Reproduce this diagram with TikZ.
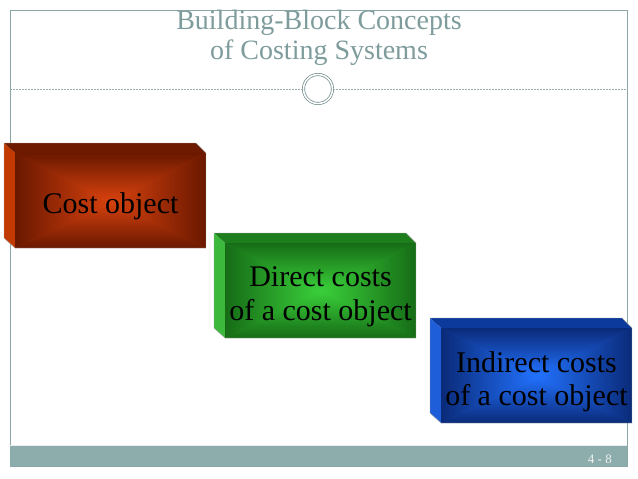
\documentclass[tikz,border=0pt]{standalone}
\usepackage{fontspec}
\setmainfont{Liberation Serif}
\usetikzlibrary{calc}
\definecolor{titlec}{HTML}{7F9C9C}
\definecolor{framec}{HTML}{8AA6A6}
\definecolor{barc}{HTML}{8DACAC}
\definecolor{redE}{HTML}{6A1800}
\definecolor{redC}{HTML}{D8420E}
\definecolor{redT}{HTML}{6E1A00}
\definecolor{redL}{HTML}{C23A00}
\definecolor{grnE}{HTML}{166C16}
\definecolor{grnC}{HTML}{3AD03A}
\definecolor{grnT}{HTML}{1E7E1E}
\definecolor{grnL}{HTML}{3CB83C}
\definecolor{bluE}{HTML}{0A2A78}
\definecolor{bluC}{HTML}{2272FF}
\definecolor{bluT}{HTML}{0B3A9C}
\definecolor{bluL}{HTML}{1E5ED8}
\tikzset{
  boxtext/.style={font=\fontsize{30}{33.5}\selectfont, text=black, align=center, inner sep=0pt},
  edgeline/.style={draw=black!35, line width=0.4pt}
}
% #1 x, #2 y of front top-left, #3 edge, #4 centre, #5 top face, #6 left face
\newcommand\drawblock[6]{%
  \coordinate (tl) at (#1,#2);
  \coordinate (tr) at (#1+191,#2);
  \coordinate (br) at (#1+191,#2+95);
  \coordinate (bl) at (#1,#2+95);
  \coordinate (cc) at (#1+95.5,#2+47.5);
  \fill[#5] (tl) -- (tr) -- ($(tr)+(-10,-10)$) -- ($(tl)+(-11,-10)$) -- cycle;
  \fill[#6] (tl) -- (bl) -- ($(bl)+(-11,-10)$) -- ($(tl)+(-11,-10)$) -- cycle;
  \fill[#3!45!#4] (tl) rectangle (br);
  \shade[top color=#3, bottom color=#4] (tl) -- (tr) -- (cc) -- cycle;
  \shade[top color=#4, bottom color=#3] (bl) -- (br) -- (cc) -- cycle;
  \shade[left color=#3, right color=#4] (tl) -- (bl) -- (cc) -- cycle;
  \shade[left color=#4, right color=#3] (tr) -- (br) -- (cc) -- cycle;
  \draw[edgeline] ($(tl)+(-11,-10)$) -- ($(tr)+(-10,-10)$) -- (tr) -- (br) -- (bl) -- ($(bl)+(-11,-10)$) -- cycle;
}
\begin{document}
\begin{tikzpicture}[x=1pt,y=-1pt]
\useasboundingbox (0,0) rectangle (638,479);
\fill[white] (0,0) rectangle (638,479);
% frame and footer bar
\draw[framec, line width=0.6pt] (10,10) rectangle (627,466);
\fill[barc] (10,446) rectangle (627,466);
\draw[white!80!barc, line width=0.6pt] (10,445.5) -- (627,445.5);
\node[anchor=east, font=\fontsize{13}{15}\selectfont, text=white!85!barc, inner sep=0pt] (pgnum) at (612,459) {4 - 8};
% title
\node[font=\fontsize{28}{30}\selectfont, text=titlec, align=center, inner sep=0pt] (title) at (319,38) {Building-Block Concepts\\of Costing Systems};
% divider with ornament
\node[circle, draw=titlec!90!black, double=white, double distance=1.6pt, line width=0.7pt, minimum size=29pt, inner sep=0pt] (orn) at (318,89) {};
\coordinate (dl) at (10,89);
\coordinate (dr) at (627,89);
\draw[titlec!80, line width=0.5pt, dash pattern=on 2pt off 1pt] (dl) -- (orn.west);
\draw[titlec!80, line width=0.5pt, dash pattern=on 2pt off 1pt] (orn.east) -- (dr);
% blocks
\drawblock{15}{153}{redE}{redC}{redT}{redL}
\node[boxtext] (costobj) at (110.5,206) {Cost object};
\drawblock{225}{243}{grnE}{grnC}{grnT}{grnL}
\node[boxtext] (direct) at (320.5,297) {Direct costs\\of a cost object};
\drawblock{441}{328}{bluE}{bluC}{bluT}{bluL}
\node[boxtext] (indirect) at (536.5,382) {Indirect costs\\of a cost object};
\end{tikzpicture}
\end{document}
